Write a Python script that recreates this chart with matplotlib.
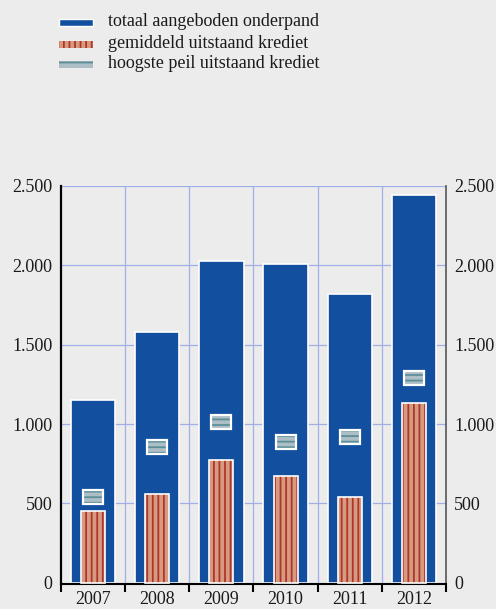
import matplotlib
matplotlib.use("Agg")
import matplotlib.pyplot as plt
from matplotlib.patches import Rectangle
from matplotlib.ticker import FuncFormatter, FixedLocator
import numpy as np

years = ["2007", "2008", "2009", "2010", "2011", "2012"]
onderpand = [1150, 1580, 2030, 2010, 1820, 2445]
gemiddeld = [450, 560, 775, 675, 540, 1130]
hoogste = [540, 855, 1010, 885, 920, 1290]
yticks = [0, 500, 1000, 1500, 2000, 2500]
legend_labels = ["totaal aangeboden onderpand",
                 "gemiddeld uitstaand krediet",
                 "hoogste peil uitstaand krediet"]

BG = "#ececec"
BLUE = "#124f9f"
SALMON = "#d69a80"
RED_LINE = "#b0362a"
GREY = "#aebec6"
TEAL = "#5d8f98"
GRID = "#a3ade6"
TXT = "#1a1a1a"

plt.rcParams["font.family"] = ["Liberation Serif", "DejaVu Serif"]
plt.rcParams["hatch.linewidth"] = 1.3

fig = plt.figure(figsize=(4.96, 6.09), dpi=100, facecolor=BG)
ax = fig.add_axes([61 / 496, 1 - 584 / 609, 385 / 496, 398 / 609])
ax.set_facecolor(BG)

x = np.arange(len(years))

# grid
for v in yticks[1:]:
    ax.axhline(v, color=GRID, lw=0.9, zorder=0)
for b in np.arange(0.5, len(years) - 0.5, 1):
    ax.axvline(b, color=GRID, lw=0.9, zorder=0)

# totaal aangeboden onderpand
ax.bar(x, onderpand, width=0.69, color=BLUE, edgecolor="white", lw=1.2, zorder=2)

# gemiddeld uitstaand krediet
ax.bar(x, gemiddeld, width=0.375, color=SALMON, edgecolor=RED_LINE, hatch="|||",
       lw=0, zorder=3)
ax.bar(x, gemiddeld, width=0.375, fill=False, edgecolor="white", lw=1.2, zorder=4)

# hoogste peil uitstaand krediet
mh = 88
hb = [v - mh / 2 for v in hoogste]
ax.bar(x, [mh] * len(x), bottom=hb, width=0.31, color=GREY, edgecolor=TEAL,
       hatch="---", lw=0, zorder=3)
ax.bar(x, [mh] * len(x), bottom=hb, width=0.31, fill=False, edgecolor="white",
       lw=1.6, zorder=4)

ax.set_xlim(-0.5, len(years) - 0.5)
ax.set_ylim(-8, 2500)

fmt = FuncFormatter(lambda v, p: f"{int(v):,}".replace(",", "."))
ax.set_yticks(yticks)
ax.yaxis.set_major_formatter(fmt)
ax.tick_params(axis="y", length=0, labelsize=13, pad=6, colors=TXT,
               labelright=True)
ax.tick_params(axis="y", which="both", left=False, right=False)

ax.set_xticks(x)
ax.set_xticklabels(years)
ax.xaxis.set_minor_locator(FixedLocator(np.arange(-0.5, len(years), 1)))
ax.tick_params(axis="x", which="major", length=0, labelsize=13, pad=5,
               colors=TXT)
ax.tick_params(axis="x", which="minor", length=6, width=1.5, direction="out",
               color="black")

ax.spines["top"].set_visible(False)
ax.spines["left"].set_color("black")
ax.spines["left"].set_linewidth(1.6)
ax.spines["right"].set_color("#555555")
ax.spines["right"].set_linewidth(1.2)
ax.spines["bottom"].set_color("black")
ax.spines["bottom"].set_linewidth(1.5)

# legend
leg_y = [22, 44, 64]
styles = [
    dict(facecolor=BLUE, edgecolor="white", lw=1.0),
    dict(facecolor=SALMON, edgecolor=RED_LINE, hatch="|||", lw=0),
    dict(facecolor=GREY, edgecolor=TEAL, hatch="--", lw=0),
]
for yy, lab, st in zip(leg_y, legend_labels, styles):
    r = Rectangle((59 / 496, 1 - (yy + 4) / 609), 34 / 496, 7 / 609,
                  transform=fig.transFigure, **st)
    fig.add_artist(r)
    fig.text(108 / 496, 1 - yy / 609, lab, fontsize=13, va="center",
             ha="left", color=TXT)

fig.savefig("out.png", dpi=100, facecolor=BG)
